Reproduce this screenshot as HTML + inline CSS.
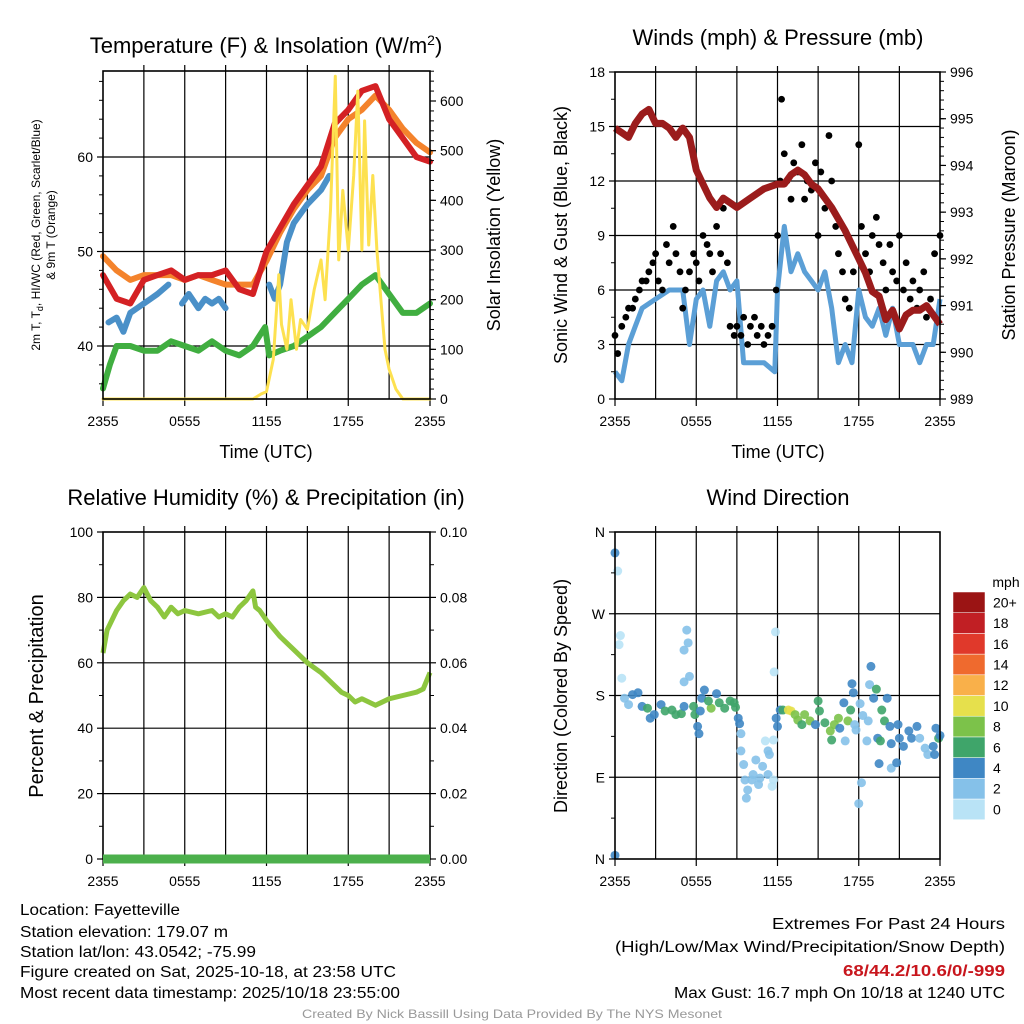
<!DOCTYPE html>
<html><head><meta charset="utf-8"><style>
html,body{margin:0;padding:0;background:#fff}
svg{display:block;font-family:"Liberation Sans",sans-serif}
</style></head><body>
<svg id="s" width="1024" height="1024" viewBox="0 0 1024 1024" xmlns="http://www.w3.org/2000/svg"></svg>
<script>
// ---------- DATA ----------
const tempHours = [0,1,2,3,4,5,6,7,8,9,10,11,12,13,14,15,16,17,18,19,20,21,22,23,24];
const tempRed = [47.5,45,44.5,47,47.5,48,47,47.5,47.5,48,46,45.5,50,52.5,55,57,59,63.5,65,67,67.5,64,62,60,59.5];
const tempOrange = [49.5,48,47,47.5,47.5,47.5,47,47.5,47,46.5,46.5,46.5,49,52,54.5,56.5,58,62,64,65,66.5,65,63,61.5,60.5];
const hiHours = [0.4,1,1.5,2,2.5,3,3.5,4,4.8,5.3,5.8,6.3,7,7.5,8,8.5,9,11.8,12.2,12.6,13,13.5,14,15,16,16.6];
const hiVals = [42.5,43,41.5,43.5,44,44.5,45,45.5,46.5,null,44.5,45.5,44,45,44.5,45,44,null,46.5,45,46.5,51,53,55,56.5,58];
const dewHours = [0,0.5,1,2,3,4,5,6,7,8,9,10,11,11.9,12.2,13,14,15,16,17,18,19,20,21,22,23,24];
const dewVals = [35.5,38,40,40,39.5,39.5,40.5,40,39.5,40.5,39.5,39,40,42,39,39.5,40,41,42,43.5,45,46.5,47.5,45.5,43.5,43.5,44.5];
const solarHours = [0,11,11.6,12,12.5,12.9,13.1,13.5,13.8,14.2,14.5,15,15.5,16,16.3,16.7,17.05,17.3,17.6,18,18.4,18.7,19,19.2,19.5,19.8,20.1,20.4,20.7,21,21.5,22,24];
const solarVals = [0,0,10,15,80,250,150,100,200,100,160,140,220,280,200,380,650,280,420,300,450,620,300,560,310,450,300,200,100,60,20,0,0];
const windHours = [0,0.5,1,1.5,2,3,4,5,5.5,6,6.5,7,7.5,8,8.5,9,9.5,10,11,11.8,12,12.5,13,13.5,14,14.5,15,15.5,16,16.5,17,17.5,18,18.5,19,19.5,20,20.5,21,22,22.5,23,23.5,24];
const windVals = [1.5,1,3,4,5,5.5,6,6,3,5.5,6,4,6.5,7,6,6.5,2,2,2,1.5,6,9.5,7,8,7,6.5,6,7,5,2,3,2,6,4.5,4,5,3.5,5,3,3,2,3,3,5.5];
const gustHours = [0,0.2,0.5,0.8,1,1.3,1.5,1.8,2,2.3,2.5,2.8,3,3.2,3.5,3.8,4,4.3,4.5,4.8,5,5.2,5.5,5.8,6,6.2,6.5,6.8,7,7.2,7.5,7.8,8,8.3,8.5,8.8,9,9.3,9.5,9.8,10,10.3,10.5,10.8,11,11.3,11.6,11.9,12,12.2,12.3,12.5,12.7,13,13.2,13.5,13.8,14,14.2,14.5,14.8,15,15.2,15.5,15.8,16,16.3,16.5,16.8,17,17.3,17.6,18,18.2,18.5,18.8,19,19.3,19.5,19.8,20,20.3,20.5,20.8,21,21.3,21.5,21.8,22,22.3,22.5,22.8,23,23.3,23.6,24];
const gustVals = [3.5,2.5,4,4.5,5,5,5.5,6,6.5,6.5,7,7.5,8,6.5,6,8.5,7.5,9.5,8,7,5,6,7,8,7.5,6.5,9,8.5,8,7,9.5,8,10.5,7.5,4,3.5,4,3.5,4.5,3,4,4.5,3.5,4,3,3.5,4,6,9,12,16.5,13.5,12,11,13,12.5,14,11,12,11.5,13,9,12.5,10.5,14.5,12,9.5,8,7,5.5,5,7,14,9.5,8,7,9,10,8.5,7.5,6,8.5,7,6.5,9,6,7.5,5.5,6.5,5,6,7,4.5,5.5,8,9];
const presHours = [0,0.5,1,1.5,2,2.5,3,3.5,4,4.5,5,5.5,6,6.5,7,7.5,8,8.5,9,10,11,12,12.5,13,13.5,14,14.5,15,16,17,18,18.5,19,19.5,20,20.5,21,21.5,22,22.5,23,23.5,24];
const presVals = [994.8,994.7,994.6,994.9,995.1,995.2,994.9,994.9,994.8,994.6,994.8,994.6,993.9,993.6,993.3,993.1,993.3,993.2,993.1,993.3,993.5,993.6,993.6,993.8,993.9,993.8,993.6,993.5,993.1,992.6,992.0,991.7,991.3,991.2,990.7,990.9,990.5,990.8,990.9,990.9,991.0,990.8,990.6];
const rhHours = [0,0.3,1,1.5,2,2.5,3,3.5,4,4.5,5,5.5,6,7,8,8.5,9,9.5,10,10.5,11,11.2,11.5,12,13,14,15,16,17,17.5,18,18.5,19,20,21,22,23,23.5,24];
const rhVals = [63,70,76,79,81,80,83,79,77,74,77,75,76,75,76,74,75,74,77,79,82,77,76,73,68,64,60,57,53,51,50,48,49,47,49,50,51,52,57];
const precipHours = [0,24];
const precipVals = [0,0];
const dirHours = [0,0.2,0,0.4,0.3,0.5,0.7,1,1.3,1.7,2,2.4,2.6,2.9,3.4,3.7,4.2,4.5,4.9,5.1,5.1,5.3,5.4,5.5,5.1,5.8,5.9,6.1,6.2,6.3,6.4,6.6,7.1,6.9,7.5,7.7,8.1,8.5,8.8,8.9,9.1,9.2,9.3,9.3,9.5,9.6,9.7,9.8,10.1,10.2,10.4,10.6,10.7,10.9,11.1,11.3,11.3,11.4,11.6,11.7,11.7,11.75,11.85,11.9,12,12.2,12.4,12.8,13,13.3,13.5,13.8,14,14.4,14.8,15,15.1,15.5,15.9,16,16.2,16.5,16.6,16.9,17,17.2,17.4,17.5,17.6,17.7,17.8,18.1,18.2,18,18.3,18.6,18.7,18.9,18.8,19.1,19.3,19.4,19.6,19.5,19.7,19.9,20.1,20.3,20.4,20.4,20.8,20.9,21,21.3,21.7,21.9,22.3,22.5,22.9,23.1,23.5,23.6,23.7,23.9,24];
const dirDeg = [337,317,4,246,236,199,177,170,181,183,168,166,155,159,170,163,164,159,160,168,230,252,238,201,195,168,159,146,138,163,177,186,166,174,182,172,166,174,172,167,155,149,138,119,104,87,67,76,87,93,109,82,89,102,130,93,119,115,80,131,87,206,250,155,146,164,164,164,163,159,153,148,159,152,148,174,163,150,141,131,148,155,144,172,130,152,164,193,183,148,142,171,84,61,158,130,152,212,192,177,187,133,130,105,164,152,177,146,127,100,106,148,133,124,141,133,146,133,122,115,124,115,144,133,136];
const dirSpeed = [5,1,5,0,1,0,3,3,5,5,5,7,5,5,5,7,7,7,7,5,3,3,3,3,3,7,7,5,5,5,5,5,9,7,5,7,7,7,7,7,5,5,3,3,3,3,3,3,3,3,3,3,3,3,1,3,3,3,1,1,1,1,1,5,5,5,7,11,11,9,9,7,9,9,5,7,7,7,9,7,9,9,5,5,3,9,7,5,5,3,3,3,3,3,3,3,3,5,3,5,7,5,7,5,7,7,5,5,5,3,5,5,5,5,5,5,5,3,3,3,5,5,5,7,5];
const binLabels = ["0","2","4","6","8","10","12","14","16","18","20+"];
const binColors = ["#b9e3f6","#85c1e9","#3f87c4","#3fa56a","#7cc24a","#e6e04c","#f9b04a","#ef6a2e","#e0392b","#c11f24","#9b1414"];
const timeTicks = ["2355","0555","1155","1755","2355"];

// ---------- HELPERS ----------
const NS="http://www.w3.org/2000/svg", S=document.getElementById('s');
function mk(tag, attrs, parent){const e=document.createElementNS(NS,tag);for(const k in attrs)e.setAttribute(k,attrs[k]);(parent||S).appendChild(e);return e;}
function txt(x,y,s,size,anchor,extra,parent){const e=mk('text',Object.assign({x:x,y:y,'font-size':size,'text-anchor':anchor||'middle',fill:'#000'},extra||{}),parent);e.textContent=s;return e;}
function scale(d0,d1,r0,r1){return v=>r0+(v-d0)/(d1-d0)*(r1-r0);}
function pathD(xs,ys,fx,fy){let d='',pen=false;for(let i=0;i<xs.length;i++){if(ys[i]===null){pen=false;continue;}d+=(pen?'L':'M')+fx(xs[i]).toFixed(1)+','+fy(ys[i]).toFixed(1);pen=true;}return d;}

function frame(L,T,R,B,name){
  const g=mk('g',{});
  
  
  const fx=scale(0,24,L,R);
  for(let h=3;h<24;h+=3){mk('line',{x1:fx(h),x2:fx(h),y1:T,y2:B,stroke:'#000','stroke-width':1.2},g);mk('line',{x1:fx(h),x2:fx(h),y1:T-6,y2:T,stroke:'#000','stroke-width':1.2},g);}
  for(let i=0;i<5;i++){mk('line',{x1:fx(i*6),x2:fx(i*6),y1:B,y2:B+7,stroke:'#000','stroke-width':1.2},g);
    const t=txt(fx(i*6),B+27,timeTicks[i],14,'middle',{},g);
    
    }
  return {g,fx};
}
function border(L,T,R,B,g){mk('rect',{x:L,y:T,width:R-L,height:B-T,fill:'none',stroke:'#000','stroke-width':1.6},g);}
function hgrid(L,R,y,g){mk('line',{x1:L,x2:R,y1:y,y2:y,stroke:'#000','stroke-width':1.2},g);}
function yticks(x,vals,fy,labels,side,g,len){for(let i=0;i<vals.length;i++){const y=fy(vals[i]);mk('line',{x1:x,x2:x+(side<0?-len:len),y1:y,y2:y,stroke:'#000','stroke-width':1.2},g);
  const t=txt(x+(side<0?-10:10),y+5,labels[i],14,side<0?'end':'start',{},g);
  
  }}
function minor(x,from,to,step,fy,side,g){for(let v=from;v<=to+1e-9;v+=step){const y=fy(v);mk('line',{x1:x,x2:x+side*4,y1:y,y2:y,stroke:'#000','stroke-width':1},g);}}

// ---------- PANEL 1 : Temperature ----------
(function(){
  const L=103,T=71,R=430,B=399;
  const {g,fx}=frame(L,T,R,B,'temperature-panel');
  const fy=scale(40,60,346,157), fs=scale(0,600,399,101);
  [40,50,60].forEach(v=>hgrid(L,R,fy(v),g));
  const add=(d,c,w,n)=>{const p=mk('path',{d:d,fill:'none',stroke:c,'stroke-width':w,'stroke-linejoin':'round','stroke-linecap':'round'},g);};
  add(pathD(dewHours,dewVals,fx,fy),'#40ae40',6,'dewpoint-line');
  add(pathD(hiHours,hiVals,fx,fy),'#4a90c8',6,'heat-index-line');
  add(pathD(tempHours,tempOrange,fx,fy),'#f4832c',6,'temp-9m-line');
  add(pathD(tempHours,tempRed,fx,fy),'#d42124',6,'temp-2m-line');
  add(pathD(solarHours,solarVals,fx,fs),'#fde150',3,'solar-line');
  border(L,T,R,B,g);
  yticks(L,[40,50,60],fy,['40','50','60'],-1,g,6);
  minor(L,36,68,2,fy,-1,g);
  yticks(R,[0,100,200,300,400,500,600],fs,['0','100','200','300','400','500','600'],1,g,6);
  minor(R,20,660,20,fs,1,g);
  const t=mk('text',{x:266,y:53,'font-size':22,'text-anchor':'middle'});t.innerHTML='Temperature (F) &amp; Insolation (W/m<tspan dy="-8" font-size="14">2</tspan><tspan dy="8">)</tspan>';
  
  const xl=txt(266,458,'Time (UTC)',18);
  const y1=mk('text',{x:0,y:0,'font-size':12,'text-anchor':'middle',transform:'translate(40,235) rotate(-90)'});y1.innerHTML='2m T, T<tspan dy="3" font-size="9">d</tspan><tspan dy="-3">, HI/WC (Red, Green, Scarlet/Blue)</tspan>';
  
  const y2=txt(0,0,'& 9m T (Orange)',12,'middle',{transform:'translate(55,235) rotate(-90)'});
  const y3=txt(0,0,'Solar Insolation (Yellow)',18,'middle',{transform:'translate(500,235) rotate(-90)'});
})();

// ---------- PANEL 2 : Winds ----------
(function(){
  const L=615,T=72,R=940,B=399;
  const {g,fx}=frame(L,T,R,B,'winds-panel');
  const fy=scale(0,18,B,T), fp=scale(989,996,B,T);
  [3,6,9,12,15].forEach(v=>hgrid(L,R,fy(v),g));
  const w=mk('path',{d:pathD(windHours,windVals,fx,fy),fill:'none',stroke:'#5b9fd6','stroke-width':5,'stroke-linejoin':'round'},g);
  
  for(let i=0;i<gustHours.length;i++){const c=mk('circle',{cx:fx(gustHours[i]),cy:fy(gustVals[i]),r:3.4,fill:'#000'},g);
    }
  const p=mk('path',{d:pathD(presHours,presVals,fx,fp),fill:'none',stroke:'#9b1c1c','stroke-width':7,'stroke-linejoin':'round'},g);
  
  border(L,T,R,B,g);
  yticks(L,[0,3,6,9,12,15,18],fy,['0','3','6','9','12','15','18'],-1,g,6);
  minor(L,1.5,16.5,3,fy,-1,g);
  yticks(R,[989,990,991,992,993,994,995,996],fp,['989','990','991','992','993','994','995','996'],1,g,6);
  minor(R,989.2,995.8,0.2,fp,1,g);
  const t=txt(778,45,'Winds (mph) & Pressure (mb)',22);
  const xl=txt(778,458,'Time (UTC)',18);
  const y1=txt(0,0,'Sonic Wind & Gust (Blue, Black)',18,'middle',{transform:'translate(567,235) rotate(-90)'});
  const y2=txt(0,0,'Station Pressure (Maroon)',18,'middle',{transform:'translate(1015,235) rotate(-90)'});
})();

// ---------- PANEL 3 : RH ----------
(function(){
  const L=103,T=532,R=430,B=859;
  const {g,fx}=frame(L,T,R,B,'humidity-panel');
  const fy=scale(0,100,B,T), fr=scale(0,0.1,B,T);
  [20,40,60,80].forEach(v=>hgrid(L,R,fy(v),g));
  const r=mk('path',{d:pathD(rhHours,rhVals,fx,fy),fill:'none',stroke:'#8dc63f','stroke-width':5,'stroke-linejoin':'round'},g);
  
  border(L,T,R,B,g);
  const pr=mk('path',{d:pathD(precipHours,precipVals,fx,fr),fill:'none',stroke:'#4cb04c','stroke-width':9},g);
  
  yticks(L,[0,20,40,60,80,100],fy,['0','20','40','60','80','100'],-1,g,6);
  minor(L,10,90,20,fy,-1,g);
  yticks(R,[0,0.02,0.04,0.06,0.08,0.1],fr,['0.00','0.02','0.04','0.06','0.08','0.10'],1,g,6);
  minor(R,0.01,0.09,0.02,fr,1,g);
  const t=txt(266,505,'Relative Humidity (%) & Precipitation (in)',22);
  const y1=txt(0,0,'Percent & Precipitation',20,'middle',{transform:'translate(43,696) rotate(-90)'});
})();

// ---------- PANEL 4 : Wind direction ----------
(function(){
  const L=615,T=532,R=940,B=859;
  const {g,fx}=frame(L,T,R,B,'wind-direction-panel');
  const fy=scale(0,360,B,T);
  [90,180,270].forEach(v=>hgrid(L,R,fy(v),g));
  for(let i=0;i<dirHours.length;i++){const idx=Math.min(10,Math.floor(dirSpeed[i]/2));
    const c=mk('circle',{cx:fx(dirHours[i]),cy:fy(dirDeg[i]),r:4.5,fill:binColors[idx],'fill-opacity':0.9},g);
    }
  border(L,T,R,B,g);
  yticks(L,[0,90,180,270,360],fy,['N','E','S','W','N'],-1,g,6);
  minor(L,45,315,90,fy,-1,g);
  const t=txt(778,505,'Wind Direction',22);
  const y1=txt(0,0,'Direction (Colored By Speed)',18,'middle',{transform:'translate(567,696) rotate(-90)'});
  const cb=mk('g',{});
  
  const top=592,bh=20.7;
  for(let i=0;i<11;i++){const y=top+(10-i)*bh;
    const r=mk('rect',{x:953,y:y,width:32,height:bh,fill:binColors[i],stroke:'#fff','stroke-width':0.5},cb);
    
    const l=txt(993,y+bh/2+5,binLabels[i],14,'start',{},cb);}
  const m=txt(1006,587,'mph',14);
})();

// ---------- FOOTER ----------
(function(){
  const lines=[['Location: Fayetteville',915,160],['Station elevation: 179.07 m',937,208],['Station lat/lon: 43.0542; -75.99',957,236],['Figure created on Sat, 2025-10-18, at 23:58 UTC',977,376],['Most recent data timestamp: 2025/10/18 23:55:00',998,380]];
  lines.forEach(l=>{const t=txt(20,l[1],l[0],15.5,'start',{textLength:l[2],lengthAdjust:'spacingAndGlyphs'});
    });
  const rl=[['Extremes For Past 24 Hours',929,233,'#000','normal'],['(High/Low/Max Wind/Precipitation/Snow Depth)',952,390,'#000','normal'],['68/44.2/10.6/0/-999',976,162,'#c8161d','bold'],['Max Gust: 16.7 mph On 10/18 at 1240 UTC',998,331,'#000','normal']];
  rl.forEach(l=>{const t=txt(1005,l[1],l[0],15.5,'end',{textLength:l[2],lengthAdjust:'spacingAndGlyphs',fill:l[3],'font-weight':l[4]});
    });
  const c=txt(512,1018,'Created By Nick Bassill Using Data Provided By The NYS Mesonet',12,'middle',{fill:'#999',textLength:420,lengthAdjust:'spacingAndGlyphs'});
  
})();
</script>
</body></html>
